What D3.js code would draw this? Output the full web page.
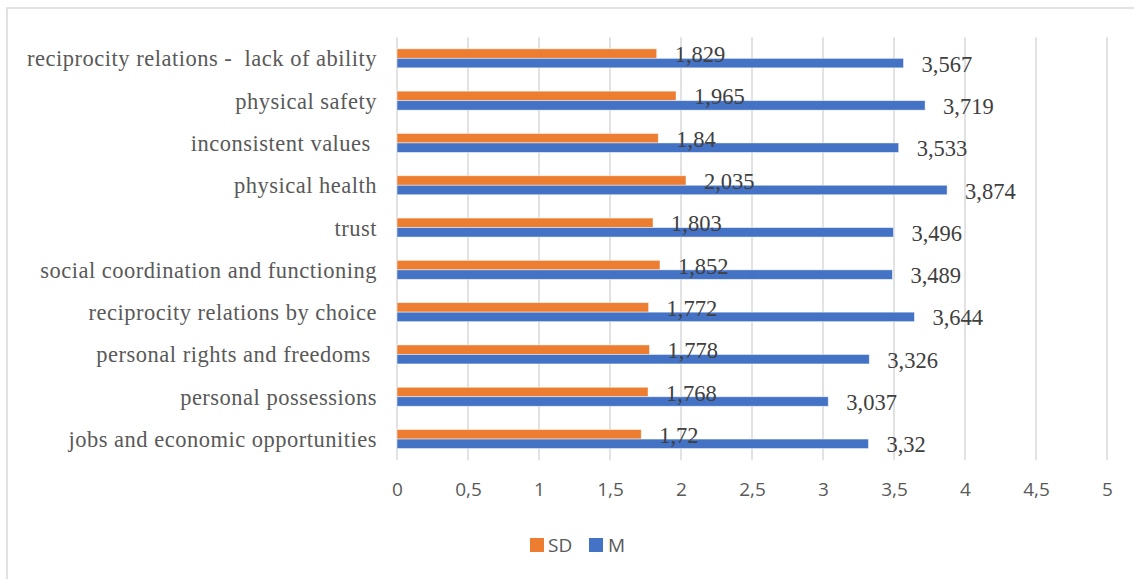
<!DOCTYPE html>
<html>
<head>
<meta charset="utf-8">
<script src="https://cdn.jsdelivr.net/npm/d3@7"></script>
<style>
  html, body { margin: 0; padding: 0; background: #fff; }
  svg { display: block; }
</style>
</head>
<body>
<div id="chart"></div>
<script>
// categories listed top to bottom
const categories = [
  'reciprocity relations -  lack of ability',
  'physical safety',
  'inconsistent values ',
  'physical health',
  'trust',
  'social coordination and functioning',
  'reciprocity relations by choice',
  'personal rights and freedoms ',
  'personal possessions',
  'jobs and economic opportunities'
];
const sdValues = [1.829, 1.965, 1.84, 2.035, 1.803, 1.852, 1.772, 1.778, 1.768, 1.72];
const mValues = [3.567, 3.719, 3.533, 3.874, 3.496, 3.489, 3.644, 3.326, 3.037, 3.32];
const seriesNames = ['SD', 'M'];
const seriesColors = ['#ED7D31', '#4472C4'];
const xTicks = [0, 0.5, 1, 1.5, 2, 2.5, 3, 3.5, 4, 4.5, 5];

const width = 1134, height = 579;
const plot = { left: 397, right: 1107, top: 37.2, bottom: 460.2 };
const groupHeight = 19;

const svg = d3.select('#chart').append('svg')
  .attr('width', width).attr('height', height);

// chart frame
svg.append('rect')
  .attr('x', 7).attr('y', 8)
  .attr('width', 1300).attr('height', 700)
  .attr('fill', '#fff').attr('stroke', '#d9d9d9').attr('stroke-width', 1.5);

const x = d3.scaleLinear().domain([0, 5]).range([plot.left, plot.right]);
const y = d3.scaleBand().domain(categories).range([plot.top, plot.bottom]).padding(0);
const ySub = d3.scaleBand().domain(seriesNames)
  .range([(y.bandwidth() - groupHeight) / 2, (y.bandwidth() + groupHeight) / 2]);

// vertical gridlines
svg.append('g')
  .selectAll('line')
  .data(xTicks)
  .join('line')
  .attr('x1', d => x(d)).attr('x2', d => x(d))
  .attr('y1', plot.top).attr('y2', plot.bottom)
  .attr('stroke', '#d9d9d9').attr('stroke-width', 1.5);

// x tick labels
const xAxis = svg.append('g')
  .attr('transform', `translate(0, ${plot.bottom})`)
  .call(d3.axisBottom(x).tickValues(xTicks).tickSize(0).tickPadding(22)
    .tickFormat(d => String(d).replace('.', ',')));
xAxis.select('.domain').remove();
xAxis.selectAll('text')
  .attr('font-family', '"Open Sans", sans-serif')
  .attr('font-size', '19px')
  .attr('fill', '#595959');

// category labels
const yAxis = svg.append('g')
  .attr('transform', `translate(${plot.left}, 0)`)
  .call(d3.axisLeft(y).tickSize(0).tickPadding(20));
yAxis.select('.domain').remove();
yAxis.selectAll('text')
  .attr('font-family', '"Liberation Serif", "Times New Roman", serif')
  .attr('font-size', '22.5px')
  .attr('letter-spacing', '0.5px')
  .attr('fill', '#595959')
  .attr('dy', null)
  .attr('y', 8)
  .style('white-space', 'pre');

const rows = categories.map((c, i) => ({ cat: c, values: [sdValues[i], mValues[i]] }));

const groups = svg.append('g')
  .selectAll('g')
  .data(rows)
  .join('g')
  .attr('transform', d => `translate(0, ${y(d.cat)})`);

groups.selectAll('rect')
  .data(d => d.values.map((v, j) => ({ name: seriesNames[j], v, j })))
  .join('rect')
  .attr('x', x(0))
  .attr('y', d => ySub(d.name))
  .attr('width', d => x(d.v) - x(0))
  .attr('height', ySub.bandwidth())
  .attr('fill', d => seriesColors[d.j])
  .attr('stroke', '#ffffff').attr('stroke-opacity', 0.6).attr('stroke-width', 0.8);

// data labels
const labels = svg.append('g');
rows.forEach(row => {
  row.values.forEach((v, j) => {
    labels.append('text')
      .attr('x', x(v) + 18)
      .attr('y', y(row.cat) + ySub(seriesNames[j]) + ySub.bandwidth() / 2 + 8.5)
      .attr('font-family', '"Liberation Serif", "Times New Roman", serif')
      .attr('font-size', '22.5px')
      .attr('fill', '#404040')
      .text(String(v).replace('.', ','));
  });
});

// legend
const legend = svg.append('g');
const legendItems = [
  { name: 'SD', color: seriesColors[0], x: 530, tx: 548 },
  { name: 'M', color: seriesColors[1], x: 589, tx: 608 }
];
legendItems.forEach(it => {
  legend.append('rect')
    .attr('x', it.x).attr('y', 538).attr('width', 14).attr('height', 14)
    .attr('fill', it.color);
  legend.append('text')
    .attr('x', it.tx).attr('y', 552)
    .attr('font-family', '"Open Sans", sans-serif')
    .attr('font-size', '19px')
    .attr('fill', '#595959')
    .text(it.name);
});
</script>
</body>
</html>
